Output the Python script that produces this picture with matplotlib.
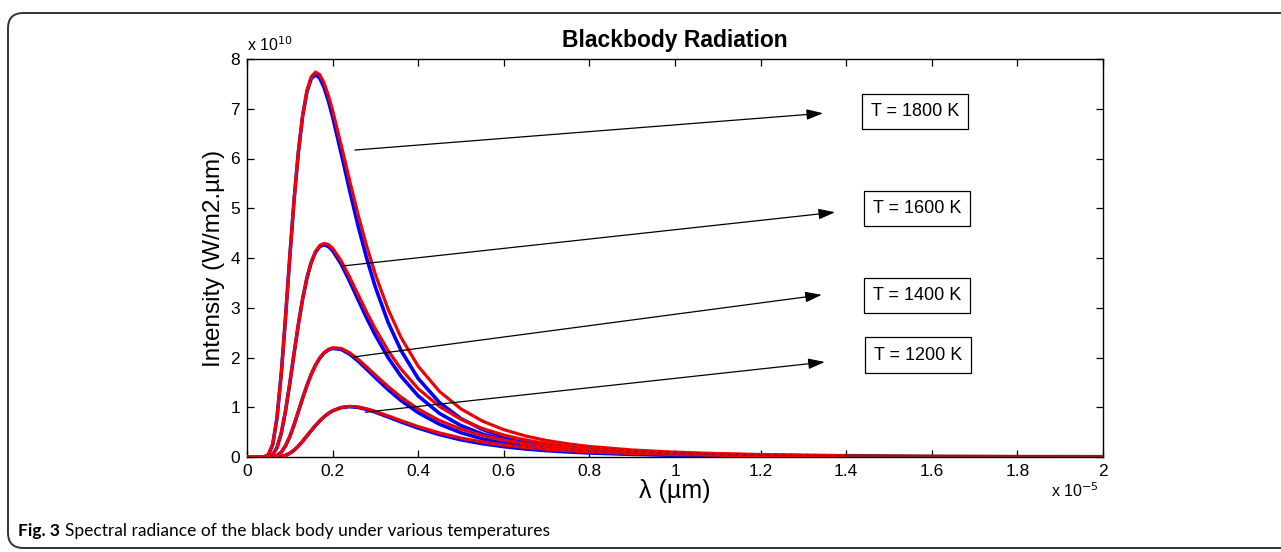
import matplotlib
matplotlib.use("Agg")
import matplotlib.pyplot as plt
from matplotlib.patches import FancyBboxPatch

# wavelength (units of 1e-5 m)
wavelength = [0.0, 0.02, 0.03, 0.04, 0.05, 0.06, 0.07, 0.08, 0.09, 0.10, 0.11, 0.12,
              0.13, 0.14, 0.15, 0.16, 0.17, 0.18, 0.19, 0.20, 0.22, 0.24, 0.26, 0.28,
              0.30, 0.33, 0.36, 0.40, 0.45, 0.50, 0.55, 0.60, 0.65, 0.70, 0.75, 0.80,
              0.90, 1.00, 1.10, 1.20, 1.30, 1.40]

# intensity (units of 1e10), red curves
red_1800 = [0, 0, 0, 0.0024, 0.0435, 0.251, 0.778, 1.664, 2.803, 4.024, 5.169, 6.133,
            6.867, 7.364, 7.643, 7.737, 7.685, 7.518, 7.270, 6.968, 6.273, 5.550, 4.857, 4.227,
            3.668, 2.963, 2.399, 1.824, 1.315, 0.966, 0.722, 0.549, 0.424, 0.332, 0.264, 0.212,
            0.141, 0.097, 0.069, 0.051, 0.038, 0.029]
red_1600 = [0, 0, 0, 0.0002, 0.0059, 0.0474, 0.187, 0.477, 0.924, 1.481, 2.083, 2.665,
            3.180, 3.601, 3.917, 4.131, 4.252, 4.294, 4.271, 4.197, 3.944, 3.614, 3.258, 2.905,
            2.575, 2.134, 1.766, 1.373, 1.012, 0.756, 0.573, 0.441, 0.343, 0.271, 0.217, 0.175,
            0.118, 0.082, 0.059, 0.043, 0.032, 0.025]
red_1400 = [0, 0, 0, 0.0, 0.0005, 0.0056, 0.0298, 0.0958, 0.222, 0.410, 0.648, 0.914,
            1.183, 1.437, 1.661, 1.847, 1.992, 2.096, 2.163, 2.196, 2.183, 2.095, 1.962, 1.808,
            1.648, 1.414, 1.203, 0.965, 0.732, 0.560, 0.432, 0.337, 0.266, 0.212, 0.171, 0.139,
            0.095, 0.066, 0.048, 0.035, 0.027, 0.020]
red_1200 = [0, 0, 0, 0.0, 0.0, 0.0003, 0.0026, 0.0113, 0.0330, 0.0739, 0.1365, 0.219,
            0.317, 0.423, 0.530, 0.633, 0.726, 0.808, 0.876, 0.930, 0.997, 1.019, 1.006, 0.969,
            0.918, 0.826, 0.731, 0.611, 0.483, 0.381, 0.302, 0.240, 0.193, 0.156, 0.127, 0.105,
            0.072, 0.051, 0.038, 0.028, 0.021, 0.016]

# blue curves
blue_1800 = [0, 0, 0, 0.0024, 0.0435, 0.251, 0.778, 1.664, 2.803, 4.023, 5.165, 6.125,
             6.852, 7.340, 7.606, 7.685, 7.615, 7.429, 7.162, 6.840, 6.107, 5.351, 4.632, 3.984,
             3.413, 2.700, 2.139, 1.577, 1.092, 0.771, 0.553, 0.404, 0.300, 0.226, 0.173, 0.134,
             0.083, 0.054, 0.036, 0.025, 0.017, 0.013]
blue_1600 = [0, 0, 0, 0.0002, 0.0059, 0.0474, 0.187, 0.477, 0.924, 1.481, 2.082, 2.664,
             3.177, 3.595, 3.907, 4.116, 4.231, 4.265, 4.233, 4.150, 3.878, 3.529, 3.155, 2.788,
             2.446, 1.994, 1.621, 1.228, 0.875, 0.631, 0.461, 0.342, 0.257, 0.196, 0.151, 0.118,
             0.074, 0.049, 0.033, 0.023, 0.016, 0.012]
blue_1400 = [0, 0, 0, 0.0, 0.0005, 0.0056, 0.0298, 0.0958, 0.222, 0.410, 0.648, 0.913,
             1.183, 1.436, 1.660, 1.844, 1.987, 2.089, 2.153, 2.183, 2.163, 2.066, 1.925, 1.762,
             1.594, 1.352, 1.134, 0.891, 0.658, 0.488, 0.365, 0.276, 0.211, 0.163, 0.128, 0.101,
             0.064, 0.043, 0.029, 0.020, 0.015, 0.011]
blue_1200 = [0, 0, 0, 0.0, 0.0, 0.0003, 0.0026, 0.0113, 0.0330, 0.0739, 0.1365, 0.219,
             0.317, 0.423, 0.530, 0.632, 0.726, 0.807, 0.874, 0.927, 0.993, 1.012, 0.996, 0.956,
             0.901, 0.804, 0.705, 0.581, 0.450, 0.346, 0.268, 0.208, 0.162, 0.128, 0.102, 0.081,
             0.053, 0.036, 0.025, 0.018, 0.013, 0.009]

tail_x = [1.40, 1.60, 1.80, 2.00]
tail_y = [0.029, 0.018, 0.011, 0.008]

labels = ["T = 1800 K", "T = 1600 K", "T = 1400 K", "T = 1200 K"]
arrow_start = [(0.252, 6.17), (0.224, 3.84), (0.248, 2.01), (0.276, 0.90)]
arrow_end = [(1.346, 6.91), (1.374, 4.92), (1.343, 3.26), (1.350, 1.91)]
label_pos = [(1.561, 6.95), (1.565, 5.00), (1.565, 3.24), (1.568, 2.05)]

xticks = [0, 0.2, 0.4, 0.6, 0.8, 1.0, 1.2, 1.4, 1.6, 1.8, 2.0]
xticklabels = ["0", "0.2", "0.4", "0.6", "0.8", "1", "1.2", "1.4", "1.6", "1.8", "2"]
yticks = [0, 1, 2, 3, 4, 5, 6, 7, 8]

plt.rcParams['font.family'] = ['Liberation Sans', 'DejaVu Sans']

W, H = 1281, 552
fig = plt.figure(figsize=(W / 100, H / 100), dpi=100)
fig.patch.set_facecolor('white')

# outer rounded frame
frame = FancyBboxPatch((8 / W, 4 / H), 1.2, (548 - 13) / H,
                       boxstyle="round,pad=0,rounding_size=0.012",
                       transform=fig.transFigure, fill=False, edgecolor='#333333',
                       linewidth=1.4, mutation_aspect=W / H)
fig.patches.append(frame)

ax = fig.add_axes([247 / W, 1 - 457 / H, (1103 - 247) / W, (457 - 59) / H])

for b in (blue_1800, blue_1600, blue_1400, blue_1200):
    ax.plot(wavelength, b, color='#0000ff', lw=2.6, solid_capstyle='butt', zorder=2)
for r in (red_1800, red_1600, red_1400, red_1200):
    ax.plot(wavelength, r, color='#ff0000', lw=2.3, zorder=3)
    ax.plot(wavelength, r, color='#7a1c2a', lw=0.7, ls=(0, (4, 4)), zorder=4, alpha=0.8)
ax.plot(tail_x, tail_y, color='#8b1a1a', lw=2.4, zorder=3)

for (s, e, lab, p) in zip(arrow_start, arrow_end, labels, label_pos):
    ax.annotate("", xy=e, xytext=s,
                arrowprops=dict(arrowstyle="-|>,head_length=1.0,head_width=0.32",
                                color='black', lw=0.9, shrinkA=0, shrinkB=0), zorder=5)
    ax.text(p[0], p[1], lab, ha='center', va='center', fontsize=13, zorder=6,
            bbox=dict(boxstyle='square,pad=0.5', facecolor='white', edgecolor='black', lw=0.9))

ax.set_xlim(0, 2)
ax.set_ylim(0, 8)
ax.set_xticks(xticks)
ax.set_xticklabels(xticklabels)
ax.set_yticks(yticks)
ax.tick_params(direction='in', length=5, width=0.9, top=True, right=True,
               labelsize=12.5, pad=5, colors='black')
for sp in ax.spines.values():
    sp.set_linewidth(1.0)
    sp.set_color('black')

ax.set_title("Blackbody Radiation", fontsize=16.5, fontweight='bold', pad=9)
ax.set_ylabel("Intensity (W/m2.\u00b5m)", fontsize=17.5, labelpad=4)
ax.set_xlabel("\u03bb (\u00b5m)", fontsize=18, labelpad=0)

fig.text(247 / W, 1 - 45 / H, r"x 10$^{10}$", fontsize=11.5, ha='left', va='center')
fig.text(1099 / W, 1 - 491 / H, r"x 10$^{-5}$", fontsize=11.5, ha='right', va='center')

cap_y = 1 - 531 / H
x0 = 18
t1 = fig.text(x0 / W, cap_y, "Fig. 3", fontsize=13, fontweight='bold',
              family=['Lato', 'DejaVu Sans'], ha='left', va='center')
fig.canvas.draw()
bb = t1.get_window_extent()
t2 = fig.text((bb.x1 + 5) / W, cap_y,
              "Spectral radiance of the black body under various temperatures",
              fontsize=13, family=['Lato', 'DejaVu Sans'], ha='left', va='center')
fig.canvas.draw()
# fit caption width to the reference span (x = 18 .. 548 px)
total = t2.get_window_extent().x1 - x0
scale = (548 - x0) / total
fs = 13 * scale
t1.set_fontsize(fs)
fig.canvas.draw()
bb = t1.get_window_extent()
t2.set_fontsize(fs)
t2.set_x((bb.x1 + 5 * scale) / W)

fig.savefig("out.png", dpi=100, facecolor='white')
